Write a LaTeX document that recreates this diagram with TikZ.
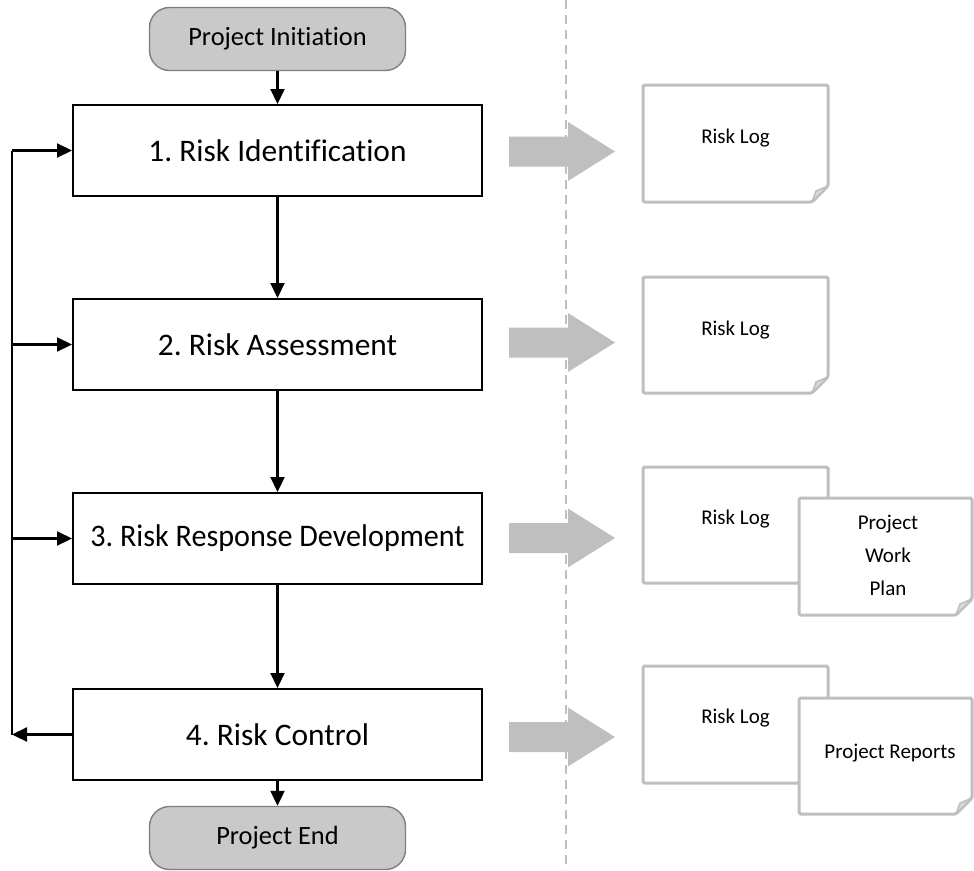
\documentclass[tikz,border=0pt]{standalone}
\usepackage{fontspec}
\usepackage{graphicx}
\setmainfont{Carlito}[Ligatures=NoCommon]
\frenchspacing
\usetikzlibrary{arrows.meta}
\definecolor{docgray}{HTML}{BFBFBF}
\definecolor{termfill}{HTML}{C9C9C9}
\definecolor{termline}{HTML}{7F7F7F}
\newcommand\mydoc[4]{%
  \draw[docline] (#1,#2) -- (#3,#2) -- (#3,{#4-16}) -- ({#3-16},#4) -- (#1,#4) -- cycle;
  \draw[docgray, line width=1.5pt, fill=docgray!60, line join=round] (#3,{#4-16}) -- ({#3-16},#4) -- ({#3-12},{#4-11}) -- cycle;
}
\newcommand\bigarrow[1]{%
  \fill[docgray] (509,{#1-15}) -- (568,{#1-15}) -- (568,{#1-29.5}) -- (615,#1) -- (568,{#1+29.5}) -- (568,{#1+15}) -- (509,{#1+15}) -- cycle;
}
\begin{document}
\begin{tikzpicture}[x=1pt,y=-1pt,
  stepbox/.style={draw=black, line width=2pt, fill=white, minimum width=409pt, minimum height=91pt, inner sep=0pt, font=\fontsize{31.4}{38}\selectfont},
  term/.style={draw=termline, line width=1.4pt, fill=termfill, rounded corners=20pt, minimum width=256pt, minimum height=63pt, inner sep=0pt, font=\fontsize{26.4}{32}\selectfont},
  arr/.style={line width=2.2pt, -{Triangle[length=15pt,width=14pt]}},
  docline/.style={draw=docgray, line width=3pt, fill=white, rounded corners=1.5pt},
  doctext/.style={font=\fontsize{21}{33}\selectfont, align=center, inner sep=0pt}]
\useasboundingbox (0,0) rectangle (974,870);
% divider
\draw[docgray, line width=1.5pt, dash pattern=on 9pt off 6pt] (566,0) -- (566,870);
% terminals and steps
\node[term] (init) at (277.5,39) {Project Initiation};
\node[stepbox] (b1) at (277.5,150.5) {1. Risk Identification};
\node[stepbox] (b2) at (277.5,344.5) {2. Risk Assessment};
\node[stepbox] (b3) at (277.5,538.5) {\scalebox{0.96}[1]{3. Risk Response Development}};
\node[stepbox] (b4) at (277.5,734.5) {4. Risk Control};
\node[term] (fin) at (277.5,838) {Project End};
% main flow
\draw[arr] (init.south) -- (b1.north);
\draw[arr] (b1.south) -- (b2.north);
\draw[arr] (b2.south) -- (b3.north);
\draw[arr] (b3.south) -- (b4.north);
\draw[arr] (b4.south) -- (fin.north);
% feedback loop
\coordinate (lt) at (12,150.5);
\coordinate (lb) at (12,734.5);
\draw[line width=2.2pt] (lt) -- (lb);
\draw[arr] (b4.west) -- (lb);
\draw[arr] (lt) -- (b1.west);
\draw[arr] (lt |- b2.west) -- (b2.west);
\draw[arr] (lt |- b3.west) -- (b3.west);
% output arrows
\bigarrow{151.5}
\bigarrow{342.5}
\bigarrow{538}
\bigarrow{737}
% documents
\mydoc{643}{85}{828}{202}
\node[doctext] (d1) at (735.5,138) {Risk Log};
\mydoc{643}{277}{828}{393}
\node[doctext] (d2) at (735.5,330) {Risk Log};
\mydoc{643}{467}{828}{583}
\node[doctext] (d3) at (735.5,519) {Risk Log};
\mydoc{799}{498}{972}{615}
\node[doctext] (d3b) at (888,555) {Project\\Work\\Plan};
\mydoc{643}{666}{828}{783}
\node[doctext] (d4) at (735.5,718) {Risk Log};
\mydoc{799}{698}{972}{814}
\node[doctext] (d4b) at (890,753) {Project Reports};
\end{tikzpicture}
\end{document}
